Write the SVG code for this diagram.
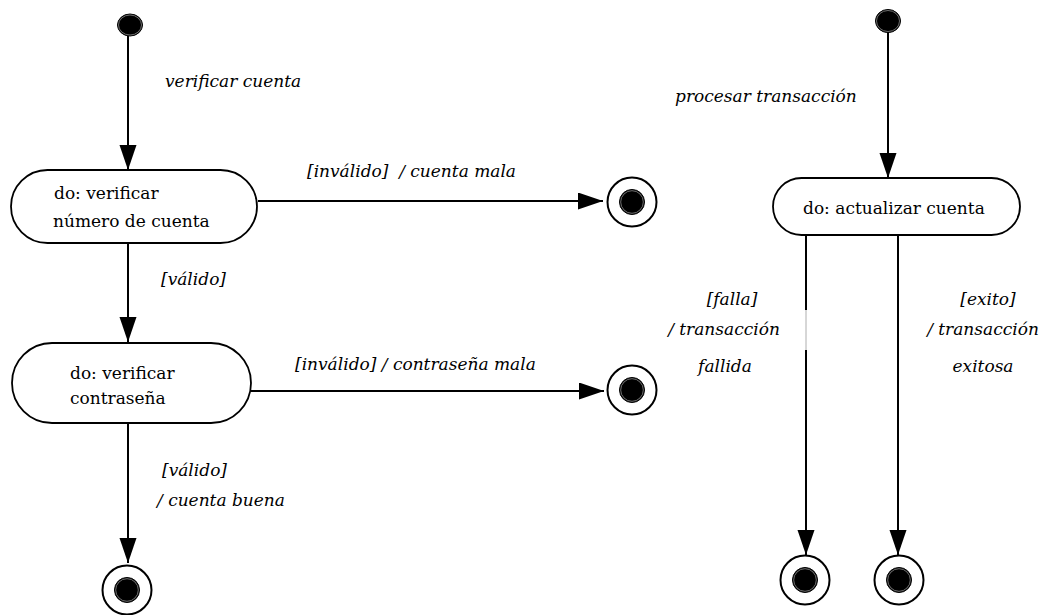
<svg xmlns="http://www.w3.org/2000/svg" width="1041" height="615" viewBox="0 0 1041 615">
  <style>
    .bg { fill: #ffffff; }
    .state { fill: #ffffff; stroke: #000000; stroke-width: 1.8; }
    .name { font-family: "DejaVu Serif", serif; font-size: 17px; fill: #000000; }
    .lbl { font-family: "DejaVu Serif", serif; font-size: 17px; font-style: italic; fill: #000000; white-space: pre; }
    .edge { fill: none; stroke: #000000; stroke-width: 2; marker-end: url(#arrow); }
    .ring { fill: #ffffff; stroke: #000000; stroke-width: 2; }
    .dot { fill: #000000; stroke: #000000; stroke-width: 1; }
    .gleam { fill: none; stroke: #8a8a8a; stroke-width: 0.8; }
  </style>
  <defs>
    <marker id="arrow" markerUnits="userSpaceOnUse" markerWidth="26" markerHeight="18" refX="25" refY="8.5" orient="auto">
      <path d="M0,0 L25,8.5 L0,17 Z" fill="#000000"/>
    </marker>
  </defs>

  <rect class="bg" x="0" y="0" width="1041" height="615"/>

  <!-- transitions -->
  <g id="connectors">
    <line class="edge" x1="128" y1="36" x2="128" y2="170"/>
    <line class="edge" x1="258" y1="201" x2="603" y2="201"/>
    <line class="edge" x1="128" y1="243" x2="128" y2="342"/>
    <line class="edge" x1="251" y1="391" x2="604" y2="391"/>
    <line class="edge" x1="128" y1="423" x2="128" y2="563"/>
    <line class="edge" x1="888" y1="32" x2="888" y2="178"/>
    <!-- falla branch: partly hidden behind its label -->
    <line x1="806" y1="235" x2="806" y2="310" stroke="#000000" stroke-width="2"/>
    <line x1="806" y1="310" x2="806" y2="350" stroke="#9a9a9a" stroke-width="0.8"/>
    <line class="edge" x1="806" y1="350" x2="806" y2="555"/>
    <line class="edge" x1="898" y1="235" x2="898" y2="555"/>

    <text class="lbl" x="165" y="87">verificar cuenta</text>
    <text class="lbl" x="307" y="177" xml:space="preserve">[inválido]  / cuenta mala</text>
    <text class="lbl" x="161" y="285">[válido]</text>
    <text class="lbl" x="295" y="370">[inválido] / contraseña mala</text>
    <text class="lbl" x="162" y="476">[válido]</text>
    <text class="lbl" x="157" y="506">/ cuenta buena</text>
    <text class="lbl" x="675" y="102">procesar transacción</text>
    <text class="lbl" x="732" y="305" text-anchor="middle">[falla]</text>
    <text class="lbl" x="724" y="335" text-anchor="middle">/ transacción</text>
    <text class="lbl" x="725" y="372" text-anchor="middle">fallida</text>
    <text class="lbl" x="988" y="305" text-anchor="middle">[exito]</text>
    <text class="lbl" x="983" y="335" text-anchor="middle">/ transacción</text>
    <text class="lbl" x="983" y="372" text-anchor="middle">exitosa</text>
  </g>

  <!-- initial pseudo-states -->
  <g id="start-cuenta">
    <ellipse class="dot" cx="130" cy="25" rx="12.5" ry="11"/>
    <ellipse class="gleam" cx="130" cy="25" rx="11.5" ry="10"/>
  </g>
  <g id="start-transaccion">
    <ellipse class="dot" cx="888" cy="21" rx="12.5" ry="11.5"/>
    <ellipse class="gleam" cx="888" cy="21" rx="11.5" ry="10.5"/>
  </g>

  <!-- activity states -->
  <g id="verificar-numero">
    <rect class="state" x="11" y="170" width="246" height="73" rx="36.5" ry="36.5"/>
    <text class="name" x="54" y="199">do: verificar</text>
    <text class="name" x="53" y="227">número de cuenta</text>
  </g>
  <g id="verificar-contrasena">
    <rect class="state" x="12" y="343" width="239" height="80" rx="40" ry="40"/>
    <text class="name" x="70" y="379">do: verificar</text>
    <text class="name" x="70" y="404">contraseña</text>
  </g>
  <g id="actualizar-cuenta">
    <rect class="state" x="773" y="178" width="247" height="57" rx="28.5" ry="28.5"/>
    <text class="name" x="803" y="214">do: actualizar cuenta</text>
  </g>

  <!-- final states -->
  <g id="fin-cuenta-mala">
    <circle class="ring" cx="632" cy="202" r="24.5"/>
    <circle class="dot" cx="632" cy="202" r="12.5"/>
    <circle class="gleam" cx="632" cy="202" r="11.3"/>
  </g>
  <g id="fin-contrasena-mala">
    <circle class="ring" cx="632" cy="390" r="24.5"/>
    <circle class="dot" cx="632" cy="390" r="12.5"/>
    <circle class="gleam" cx="632" cy="390" r="11.3"/>
  </g>
  <g id="fin-cuenta-buena">
    <circle class="ring" cx="127" cy="590" r="24.5"/>
    <circle class="dot" cx="127" cy="590" r="12.5"/>
    <circle class="gleam" cx="127" cy="590" r="11.3"/>
  </g>
  <g id="fin-fallida">
    <circle class="ring" cx="805" cy="580" r="24.5"/>
    <circle class="dot" cx="805" cy="580" r="12.5"/>
    <circle class="gleam" cx="805" cy="580" r="11.3"/>
  </g>
  <g id="fin-exitosa">
    <circle class="ring" cx="899" cy="580" r="24.5"/>
    <circle class="dot" cx="899" cy="580" r="12.5"/>
    <circle class="gleam" cx="899" cy="580" r="11.3"/>
  </g>
</svg>
